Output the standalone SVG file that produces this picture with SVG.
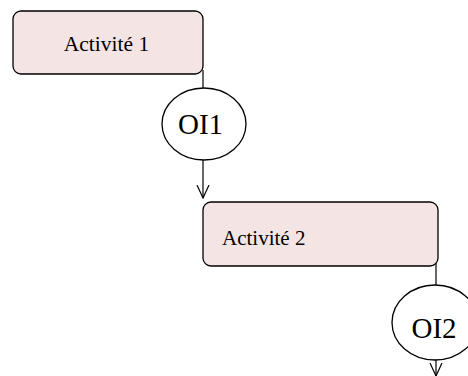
<svg xmlns="http://www.w3.org/2000/svg" width="468" height="376" viewBox="0 0 468 376">
<style>
.box{fill:#f5e4e4;stroke:#000;stroke-width:1.3}
.oval{fill:#fff;stroke:#000;stroke-width:1.3}
.line{fill:none;stroke:#000;stroke-width:1.2}
text{font-family:'Liberation Serif','DejaVu Serif',serif;fill:#000}
</style>
<defs>
<marker id="arr" viewBox="0 0 14 14" refX="13" refY="7" markerWidth="14" markerHeight="14" markerUnits="userSpaceOnUse" orient="auto">
<path d="M0,1 L13,7 L0,13" fill="none" stroke="#000" stroke-width="1.2"/>
</marker>
</defs>
<rect width="468" height="376" fill="#fff"/>
<g id="connectors">
<line class="line" x1="203" y1="70" x2="203" y2="88"/>
<line class="line" x1="203" y1="160" x2="203" y2="198" marker-end="url(#arr)"/>
<line class="line" x1="436" y1="262" x2="436" y2="285"/>
<line class="line" x1="436" y1="360" x2="436" y2="376" marker-end="url(#arr)"/>
</g>
<g id="activite1">
<rect class="box" x="13" y="11" width="190" height="63" rx="8"/>
<text x="106.5" y="51" font-size="21.5" text-anchor="middle" font-family="Liberation Serif, serif">Activité 1</text>
</g>
<g id="oi1">
<ellipse class="oval" cx="204" cy="124" rx="42" ry="36"/>
<text x="200.5" y="134" font-size="29" text-anchor="middle" font-family="Liberation Serif, serif">OI1</text>
</g>
<g id="activite2">
<rect class="box" x="203" y="202" width="235" height="64" rx="8"/>
<text x="222" y="245" font-size="21" font-family="Liberation Serif, serif">Activité 2</text>
</g>
<g id="oi2">
<ellipse class="oval" cx="435" cy="322.5" rx="43" ry="37.5"/>
<text x="434" y="338" font-size="29" text-anchor="middle" font-family="Liberation Serif, serif">OI2</text>
</g>
</svg>
